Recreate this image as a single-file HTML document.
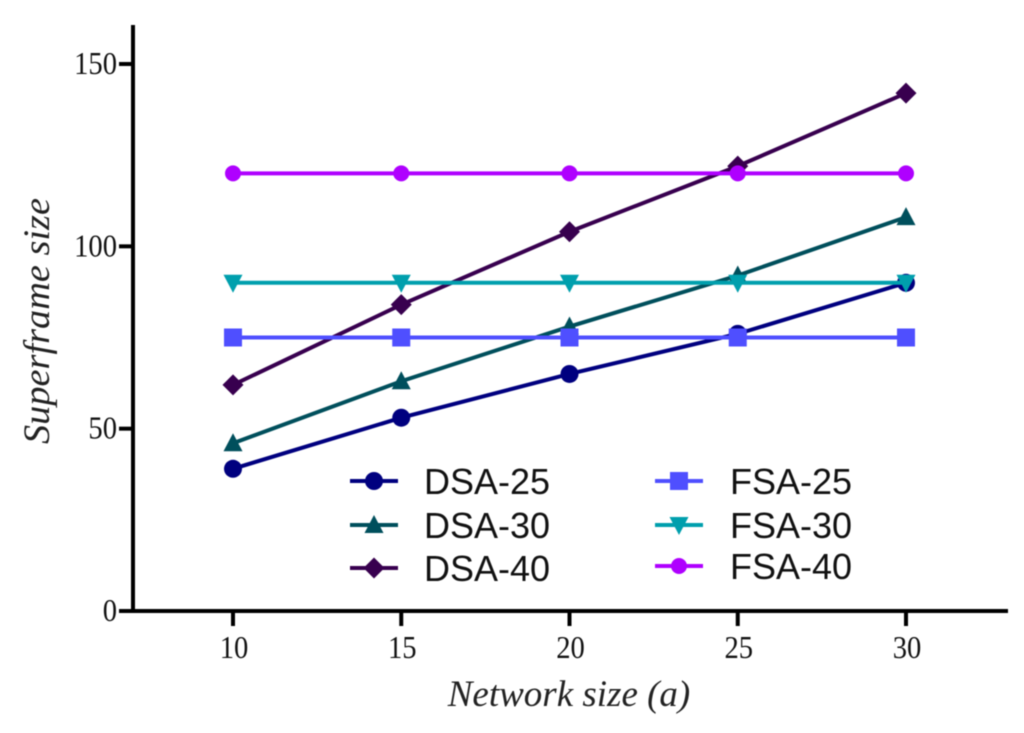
<!DOCTYPE html>
<html>
<head>
<meta charset="utf-8">
<title>Superframe size vs network size</title>
<style>
html,body{margin:0;padding:0;background:#fff;width:1024px;height:733px;overflow:hidden}
svg{display:block;filter:blur(0.6px)}
.tick{font-family:"Liberation Serif",serif;font-size:32px;fill:#111}
.title{font-family:"Liberation Serif",serif;font-size:37px;font-style:italic;fill:#222}
.leg{font-family:"Liberation Sans",sans-serif;font-size:36px;fill:#111}
</style>
</head>
<body>
<svg id="chart" width="1024" height="733" viewBox="0 0 1024 733" xmlns="http://www.w3.org/2000/svg"></svg>
<script>
const categories = [10, 15, 20, 25, 30];
const xTickLabels = [10, 15, 20, 25, 30];
const yTickLabels = [0, 50, 100, 150];
const dsa25 = [39, 53, 65, 76, 90];
const dsa30 = [46, 63, 78, 92, 108];
const dsa40 = [62, 84, 104, 122, 142];
const fsa25 = [75, 75, 75, 75, 75];
const fsa30 = [90, 90, 90, 90, 90];
const fsa40 = [120, 120, 120, 120, 120];

const NS = 'http://www.w3.org/2000/svg';
const svg = document.getElementById('chart');
function xPos(v) { return 233 + (v - 10) * (906 - 233) / 20; }
function yPos(v) { return 611 - v * (611 - 64) / 150; }
function make(tag, attrs, parent, text) {
  const el = document.createElementNS(NS, tag);
  for (const k in attrs) el.setAttribute(k, attrs[k]);
  if (text !== undefined) el.textContent = text;
  (parent || svg).appendChild(el);
  return el;
}
function drawMarker(kind, cx, cy, color, parent) {
  if (kind === 'circle') return make('circle', {cx: cx, cy: cy, r: 9, fill: color}, parent);
  if (kind === 'square') return make('rect', {x: cx - 9, y: cy - 9, width: 18, height: 18, fill: color}, parent);
  if (kind === 'up') return make('polygon', {points: [cx, cy - 10, cx + 9.5, cy + 8, cx - 9.5, cy + 8].join(' '), fill: color}, parent);
  if (kind === 'down') return make('polygon', {points: [cx - 9.5, cy - 8, cx + 9.5, cy - 8, cx, cy + 10].join(' '), fill: color}, parent);
  if (kind === 'diamond') return make('polygon', {points: [cx, cy - 10.5, cx + 10.5, cy, cx, cy + 10.5, cx - 10.5, cy].join(' '), fill: color}, parent);
  return make('circle', {cx: cx, cy: cy, r: 8, fill: color}, parent);
}

const seriesList = [
  {name: 'DSA-25', slug: 'dsa-25', values: dsa25, color: '#00007f', marker: 'circle', lx: 350, ly: 481, tx: 424},
  {name: 'DSA-30', slug: 'dsa-30', values: dsa30, color: '#004f5c', marker: 'up', lx: 350, ly: 525, tx: 424},
  {name: 'DSA-40', slug: 'dsa-40', values: dsa40, color: '#38004f', marker: 'diamond', lx: 350, ly: 568, tx: 424},
  {name: 'FSA-25', slug: 'fsa-25', values: fsa25, color: '#4f4fff', marker: 'square', lx: 655, ly: 481, tx: 730},
  {name: 'FSA-30', slug: 'fsa-30', values: fsa30, color: '#009fad', marker: 'down', lx: 655, ly: 525, tx: 730},
  {name: 'FSA-40', slug: 'fsa-40', values: fsa40, color: '#af00ff', marker: 'hexagon', lx: 655, ly: 566, tx: 730}
];

// series
seriesList.forEach(function (s) {
  const g = make('g', {});
  
  
  const pts = s.values.map(function (v, i) { return xPos(categories[i]) + ',' + yPos(v); }).join(' ');
  const line = make('polyline', {points: pts, fill: 'none', stroke: s.color, 'stroke-width': 4}, g);
  
  
  s.values.forEach(function (v, i) {
    const m = drawMarker(s.marker, xPos(categories[i]), yPos(v), s.color, g);
    
    
  });
});

// axes
const yAxis = make('line', {x1: 133, y1: 25, x2: 133, y2: 613, stroke: '#000', 'stroke-width': 4});


const xAxis = make('line', {x1: 119, y1: 611, x2: 1008, y2: 611, stroke: '#000', 'stroke-width': 4});



yTickLabels.forEach(function (v) {
  const t = make('line', {x1: 119, y1: yPos(v), x2: 133, y2: yPos(v), stroke: '#000', 'stroke-width': 4});
  
  
  const s = String(v);
  const l = make('text', {x: 117, y: yPos(v) + 10, 'text-anchor': 'end', 'class': 'tick', textLength: s.length * 14.3, lengthAdjust: 'spacingAndGlyphs'}, svg, s);
  
  
});
xTickLabels.forEach(function (v) {
  const t = make('line', {x1: xPos(v), y1: 611, x2: xPos(v), y2: 626, stroke: '#000', 'stroke-width': 4});
  
  
  const s = String(v);
  const l = make('text', {x: xPos(v) + 1, y: 658, 'text-anchor': 'middle', 'class': 'tick', textLength: s.length * 14.3, lengthAdjust: 'spacingAndGlyphs'}, svg, s);
  
  
});

const xTitle = make('text', {x: 569, y: 706, 'text-anchor': 'middle', 'class': 'title'}, svg, 'Network size (a)');


const yTitle = make('text', {x: 0, y: 0, transform: 'translate(49,321) rotate(-90)', 'text-anchor': 'middle', 'class': 'title', textLength: 246, lengthAdjust: 'spacingAndGlyphs'}, svg, 'Superframe size');



// legend
seriesList.forEach(function (s) {
  const g = make('g', {});
  
  
  make('line', {x1: s.lx, y1: s.ly, x2: s.lx + 48, y2: s.ly, stroke: s.color, 'stroke-width': 4}, g);
  drawMarker(s.marker, s.lx + 24, s.ly, s.color, g);
  make('text', {x: s.tx, y: s.ly + 13, 'class': 'leg'}, g, s.name);
});
</script>
</body>
</html>
